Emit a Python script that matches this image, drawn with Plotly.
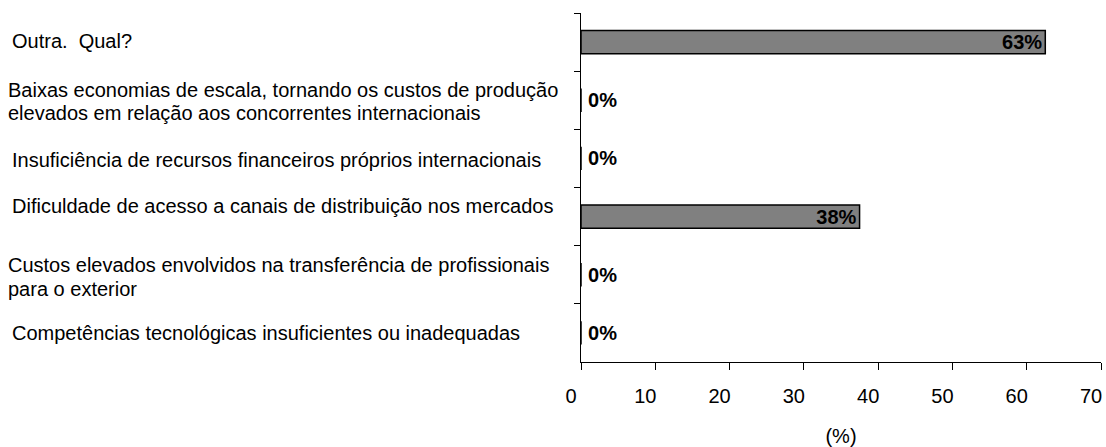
import plotly.graph_objects as go

categories = [
    "Outra.  Qual?",
    "Baixas economias de escala, tornando os custos de produção<br>elevados em relação aos concorrentes internacionais",
    "Insuficiência de recursos financeiros próprios internacionais",
    "Dificuldade de acesso a canais de distribuição nos mercados",
    "Custos elevados envolvidos na transferência de profissionais<br>para o exterior",
    "Competências tecnológicas insuficientes ou inadequadas",
]
values = [62.5, 0, 0, 37.5, 0, 0]
x_ticks = [0, 10, 20, 30, 40, 50, 60, 70]

FONT = "Liberation Sans, Arial, sans-serif"
W, H = 1106, 447
ML, MR, MT, MB = 581, 4, 13, 80
PW = W - ML - MR

labels = [("<b>%d%%</b>" if v > 0 else "<b>\u2009%d%%</b>") % int(v + 0.5) for v in values]
positions = ["inside" if v > 0 else "outside" for v in values]

fig = go.Figure(go.Bar(
    x=values, y=categories, orientation="h",
    marker=dict(color="#808080", line=dict(color="#000000", width=1.5)),
    text=labels, textposition=positions, insidetextanchor="end",
    textangle=0,
    insidetextfont=dict(family=FONT, size=20, color="#000000"),
    outsidetextfont=dict(family=FONT, size=20, color="#000000"),
    cliponaxis=False,
    hoverinfo="skip",
))

# category label placement (left pixel in page, vertical shift in px)
label_left = [9, 5, 9, 9, 5, 9]
label_shift = [1, -1, -2, 11, -2, 0]
line_gap = 23.5

annotations = []
for cat, lx, sh in zip(categories, label_left, label_shift):
    lines = cat.split("<br>")
    n = len(lines)
    for i, ln in enumerate(lines):
        off = ((n - 1) / 2 - i) * line_gap
        annotations.append(dict(
            x=(lx - ML) / PW, xref="paper", xanchor="left",
            y=cat, yref="y", yanchor="middle", yshift=sh + off,
            text=ln, showarrow=False,
            font=dict(family=FONT, size=20, color="#000000"),
        ))

fig.update_layout(
    width=W, height=H, autosize=False,
    margin=dict(l=ML, r=MR, t=MT, b=MB),
    paper_bgcolor="white", plot_bgcolor="white",
    showlegend=False, bargap=0.6,
    uniformtext=dict(minsize=20, mode="show"),
    font=dict(family=FONT, size=20, color="#000000"),
    annotations=annotations,
)
fig.update_xaxes(
    range=[0, 70], tickvals=x_ticks, showgrid=False, zeroline=False,
    showline=True, linecolor="#000000", linewidth=1,
    ticks="outside", ticklen=7, tickcolor="#000000",
    tickfont=dict(family=FONT, size=20, color="#000000"),
    ticklabelshift=-10, ticklabelstandoff=9,
    title=dict(text="(%)", standoff=22, font=dict(family=FONT, size=20, color="#000000")),
)
fig.update_yaxes(
    autorange="reversed", showticklabels=False, showgrid=False, zeroline=False,
    showline=True, linecolor="#000000", linewidth=1,
    ticks="outside", ticklen=6, tickcolor="#000000", tickson="boundaries",
)

fig.write_html(
    "out.html",
    config={"displayModeBar": False},
    post_script="document.body.style.margin='0';document.body.style.overflow='hidden';",
)
